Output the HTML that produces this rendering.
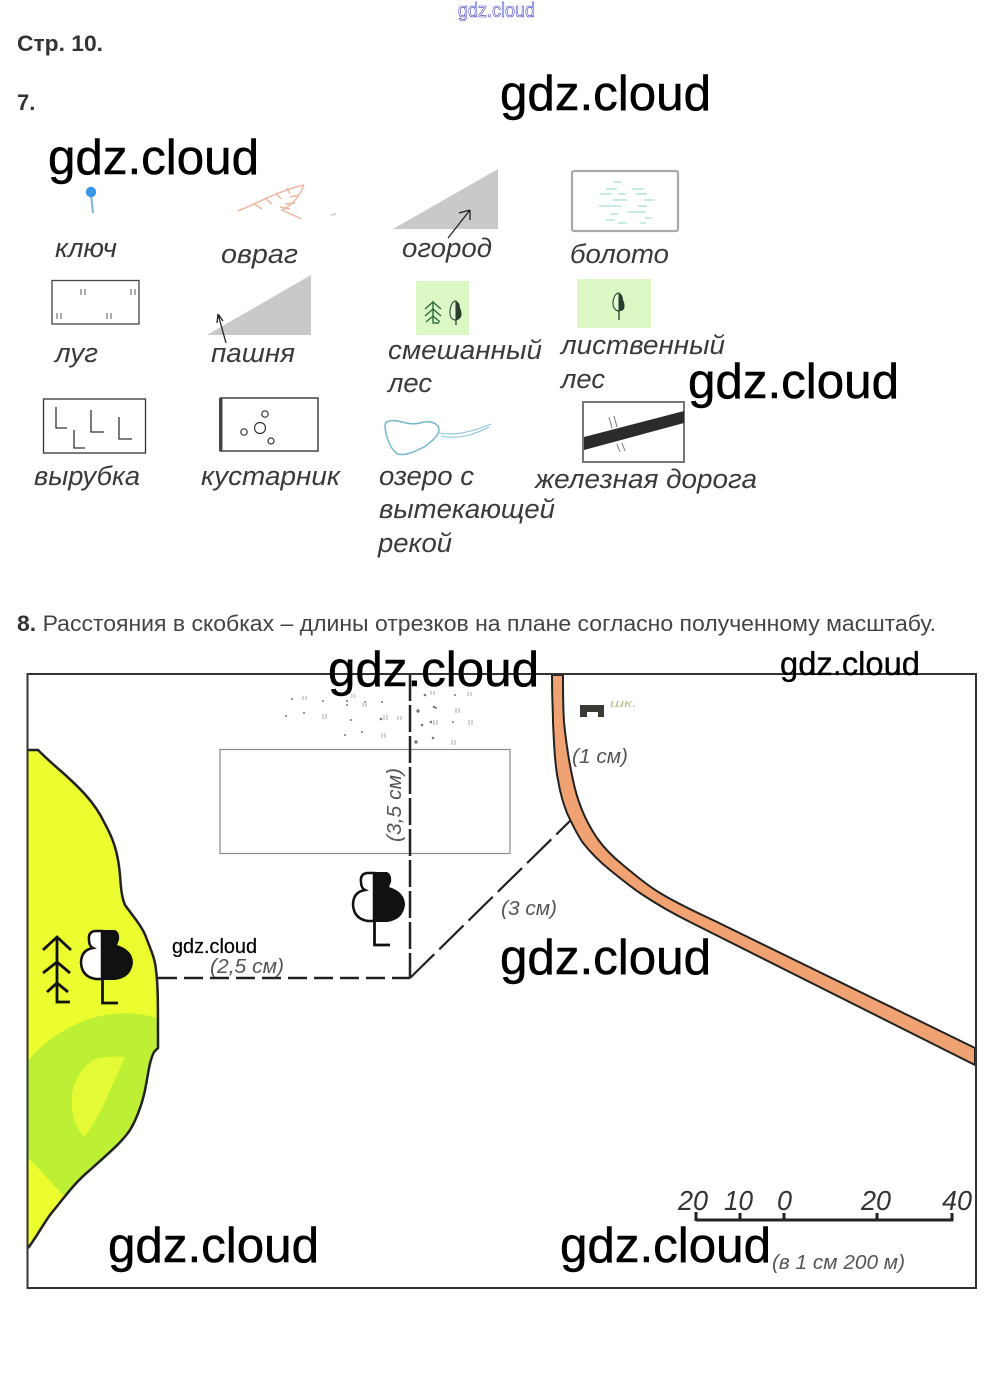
<!DOCTYPE html>
<html lang="ru"><head><meta charset="utf-8"><title>Стр. 10</title>
<style>
html,body{margin:0;padding:0;background:#fff;width:993px;height:1382px;overflow:hidden}
svg{display:block}
text{font-family:"Liberation Sans",sans-serif}
.l{font-style:italic;font-size:27px;fill:#3a3a3a}
.b{font-weight:bold;font-size:22px;fill:#333}
.m{font-style:italic;font-size:20px;fill:#555}
.s{font-style:italic;font-size:28px;fill:#333}
.w{font-size:49.500px;fill:#000;stroke:#000;stroke-width:.5px}
</style></head><body>
<svg width="993" height="1382" viewBox="0 0 993 1382" xmlns="http://www.w3.org/2000/svg">
<rect width="993" height="1382" fill="#fff"/>

<!-- header -->
<text x="458" y="17" font-size="20" fill="#fff" stroke="#3a3ac8" stroke-width=".6" textLength="77" lengthAdjust="spacingAndGlyphs">gdz.cloud</text>
<text x="17" y="51" class="b" textLength="86" lengthAdjust="spacingAndGlyphs">Стр. 10.</text>
<text x="17" y="110" class="b">7.</text>

<!-- legend icons -->
<g>
<path d="M91 194L93 213" stroke="#7fb4d8" stroke-width="2" fill="none"/>
<circle cx="91" cy="192" r="5.200" fill="#3a96e8"/>
<g stroke="#efb7a0" stroke-width="1.500" fill="none">
<path d="M238 211C258 203 280 190 304 185"/>
<path d="M304 185C300 195 293 205 282 210C290 214 296 216 301 219"/>
<path d="M254 204l8 5M265 198l7 6M276 193l5 6M287 188l3 6M299 195l-9 2M295 203l-10 1M290 209l-10-2"/>
<path d="M331 215l5-1" stroke="#ccc"/>
</g>
<rect x="52" y="280.500" width="87" height="43.500" fill="#fff" stroke="#444" stroke-width="1.300"/>
<path d="M81 289v6M85 289v6M131 289v6M135 289v6M57 313v6M61 313v6M107 313v6M111 313v6" stroke="#555"/>
<path d="M207 335L311 275V335Z" fill="#c9c9c9"/>
<path d="M226 343L218 314M218 314l-1 9M218 314l5 7" stroke="#222" stroke-width="1.300" fill="none"/>
<rect x="43.500" y="399" width="102" height="54" fill="#fff" stroke="#333" stroke-width="1.300"/>
<path d="M56 407V428H67M74 430V448H85M91 410V432H104M119 417V439H132" stroke="#333" stroke-width="1.300" fill="none"/>
<rect x="220.500" y="398" width="97.500" height="53" fill="#fff" stroke="#444" stroke-width="1.500"/>
<rect x="219" y="398" width="3.500" height="53" fill="#444"/>
<g fill="#fff" stroke="#333" stroke-width="1.200"><circle cx="265" cy="414" r="3.200"/><circle cx="260" cy="428" r="5.500"/><circle cx="244" cy="432" r="3.200"/><circle cx="271" cy="441" r="3"/></g>

<path d="M393 229L498 169V229Z" fill="#c9c9c9"/>
<path d="M448 238L470 210M470 210l-11 3M470 210l0 10" stroke="#222" stroke-width="1.300" fill="none"/>
<rect x="572" y="171" width="106" height="60" rx="2" fill="#fff" stroke="#a8a8a8" stroke-width="2.200"/>
<path d="M613 182h9M606 189h11M632 189h12M600 194h12M618 194h8M636 194h11M613 200h14M644 200h10M599 206h22M638 206h9M610 214h8M628 212h18M606 220h9M645 218h7M618 223h9M640 223h6" stroke="#8fd8d0" stroke-width=".9"/>

<rect x="416" y="281" width="53" height="54" fill="#dcf8c4"/>
<path d="M433 301V323H439M425 309l8-7 8 7M425 316l8-7 8 7M426 322l7-6 7 6" stroke="#2f6a3f" stroke-width="1.400" fill="none"/>
<path d="M456 301c-4 0-6 6-6 12 0 4 2 7 6 7z" fill="#e6f8d8" stroke="#2f5a3a" stroke-width="1.200"/>
<path d="M456 301c3 1 4 4 4 7 2 3 2 9 0 10-1 2-3 2-4 2z" fill="#26402c"/>
<path d="M456 320v5" stroke="#26402c" stroke-width="1.300"/>
<rect x="577" y="279" width="74" height="49" fill="#dcf8c4"/>
<path d="M619 293c-4 0-6 6-6 10 0 4 2 8 6 8z" fill="#e6f8d8" stroke="#2f5a3a" stroke-width="1.200"/>
<path d="M619 293c3 1 4 4 4 7 2 3 2 9 0 10-1 1-3 1-4 1z" fill="#26402c"/>
<path d="M619 311v9" stroke="#26402c" stroke-width="1.300"/>

<path d="M385 427C384 421 390 420 398 421C406 423 412 425 420 423C430 420 438 423 439 429C439 436 431 442 424 447C414 452 405 456 398 454C391 451 386 437 385 427Z" fill="none" stroke="#74b6d0" stroke-width="1.500"/>
<path d="M439 433C455 436 472 432 491 424M441 436C458 440 476 434 489 427" fill="none" stroke="#8cc6d8" stroke-width="1.100"/>

<rect x="583" y="402" width="101" height="60" fill="#fff" stroke="#777" stroke-width="2"/>
<path d="M584 437L684 411V423L584 450Z" fill="#2c2a2a"/>
<path d="M609 417l3 11M614 416l3 11M617 444l3 8M622 443l3 8" stroke="#777" stroke-width="1"/>
</g>

<!-- legend labels -->
<text x="55" y="257" class="l" textLength="62" lengthAdjust="spacingAndGlyphs">ключ</text>
<text x="221" y="263" class="l" textLength="77" lengthAdjust="spacingAndGlyphs">овраг</text>
<text x="402" y="257" class="l" textLength="90" lengthAdjust="spacingAndGlyphs">огород</text>
<text x="570" y="263" class="l" textLength="99" lengthAdjust="spacingAndGlyphs">болото</text>
<text x="55" y="362" class="l" textLength="43" lengthAdjust="spacingAndGlyphs">луг</text>
<text x="211" y="362" class="l" textLength="84" lengthAdjust="spacingAndGlyphs">пашня</text>
<text x="388" y="359" class="l" textLength="154" lengthAdjust="spacingAndGlyphs">смешанный</text>
<text x="388" y="392" class="l" textLength="44" lengthAdjust="spacingAndGlyphs">лес</text>
<text x="561" y="354" class="l" textLength="164" lengthAdjust="spacingAndGlyphs">лиственный</text>
<text x="561" y="388" class="l" textLength="44" lengthAdjust="spacingAndGlyphs">лес</text>
<text x="34" y="485" class="l" textLength="106" lengthAdjust="spacingAndGlyphs">вырубка</text>
<text x="201" y="485" class="l" textLength="139" lengthAdjust="spacingAndGlyphs">кустарник</text>
<text x="379" y="485" class="l" textLength="95" lengthAdjust="spacingAndGlyphs">озеро с</text>
<text x="379" y="518" class="l" textLength="176" lengthAdjust="spacingAndGlyphs">вытекающей</text>
<text x="378" y="552" class="l" textLength="74" lengthAdjust="spacingAndGlyphs">рекой</text>
<text x="535" y="488" class="l" textLength="222" lengthAdjust="spacingAndGlyphs">железная дорога</text>

<!-- section 8 -->
<text x="17" y="631" font-size="22" fill="#444" textLength="919" lengthAdjust="spacingAndGlyphs"><tspan font-weight="bold" fill="#333">8.</tspan> Расстояния в скобках – длины отрезков на плане согласно полученному масштабу.</text>

<!-- forest -->
<clipPath id="f"><path d="M28 750L38 750C48 760 55 766 62 772C80 788 95 803 104 822C113 838 118 852 120 875C121 890 122 898 125 905C132 915 142 926 146 937C150 948 155 958 156 970C158 985 158 1000 158 1048L154 1052C149 1062 148 1076 145 1090C142 1105 136 1120 130 1130C122 1142 110 1152 90 1170C78 1180 70 1190 62 1200L50 1215C42 1226 36 1238 28 1248Z"/></clipPath>
<path d="M28 750L38 750C48 760 55 766 62 772C80 788 95 803 104 822C113 838 118 852 120 875C121 890 122 898 125 905C132 915 142 926 146 937C150 948 155 958 156 970C158 985 158 1000 158 1048L154 1052C149 1062 148 1076 145 1090C142 1105 136 1120 130 1130C122 1142 110 1152 90 1170C78 1180 70 1190 62 1200L50 1215C42 1226 36 1238 28 1248Z" fill="#ebfc2f"/>
<g clip-path="url(#f)">
<path d="M160 1019C130 1009 95 1012 65 1030C48 1040 36 1050 26 1063V1155L63 1195L170 1150Z" fill="#bdf034"/>
<path d="M125 1057C112 1056 100 1057 93 1060C82 1068 74 1080 72 1095C71 1112 74 1128 85 1137C93 1124 101 1112 108 1095Z" fill="#e4fa34"/>
</g>
<path d="M28 750L38 750C48 760 55 766 62 772C80 788 95 803 104 822C113 838 118 852 120 875C121 890 122 898 125 905C132 915 142 926 146 937C150 948 155 958 156 970C158 985 158 1000 158 1048L154 1052C149 1062 148 1076 145 1090C142 1105 136 1120 130 1130C122 1142 110 1152 90 1170C78 1180 70 1190 62 1200L50 1215C42 1226 36 1238 28 1248" fill="none" stroke="#222" stroke-width="2.500"/>

<!-- trees -->
<path d="M57 938V1002H70M43 950L57 937L71 950M43 973L57 962L70 973M47 992L57 983L68 992" fill="none" stroke="#111" stroke-width="2.800"/>
<g>
<path d="M102 931H95Q88 932 89 940Q89 946 93 948Q81 950 81 963Q82 977 96 979H102Z" fill="#fff" stroke="#111" stroke-width="2.500"/>
<path d="M102 930H115Q120 932 119 940L117 945Q133 950 133 963Q131 978 115 980H102Z" fill="#111"/>
<path d="M102.500 980V1003H118" fill="none" stroke="#111" stroke-width="2.800"/>
</g>
<g transform="translate(272 -58)">
<path d="M102 931H95Q88 932 89 940Q89 946 93 948Q81 950 81 963Q82 977 96 979H102Z" fill="#fff" stroke="#111" stroke-width="2.500"/>
<path d="M102 930H115Q120 932 119 940L117 945Q133 950 133 963Q131 978 115 980H102Z" fill="#111"/>
<path d="M102.500 980V1003H118" fill="none" stroke="#111" stroke-width="2.800"/>
</g>

<!-- field -->
<rect x="220" y="749.500" width="290" height="104" fill="none" stroke="#8a8a8a" stroke-width="1.200"/>

<!-- stipple -->
<g fill="#777">
<circle cx="292" cy="699" r="1"/><circle cx="323" cy="701" r="1"/><circle cx="347" cy="701" r="1"/><circle cx="365" cy="702" r="1"/><circle cx="347" cy="705" r="1"/><circle cx="286" cy="716" r="1"/><circle cx="304" cy="713" r="1"/><circle cx="351" cy="720" r="1"/><circle cx="381" cy="719" r="1.300"/><circle cx="345" cy="735" r="1"/><circle cx="362" cy="732" r="1"/><circle cx="382" cy="702" r="1"/>
<circle cx="418" cy="711" r="1.700"/><circle cx="434" cy="707" r="1.300"/><circle cx="425" cy="695" r="1.300"/><circle cx="455" cy="695" r="1"/><circle cx="422" cy="725" r="1.300"/><circle cx="431" cy="722" r="1.300"/><circle cx="453" cy="722" r="1"/><circle cx="416" cy="742" r="1.700"/><circle cx="433" cy="738" r="1.300"/><circle cx="436" cy="708" r="1"/>
</g>
<path d="M303 696v4M306 696v4M323 714v5M326 714v5M363 703v4M366 703v4M384 715v5M387 715v5M398 716v4M401 716v4M382 733v5M385 733v5M352 694v4M355 694v4M431 691v4M434 691v4M468 692v4M471 692v4M456 708v5M459 708v5M434 720v5M437 720v5M469 720v5M472 720v5M452 740v5M455 740v5" stroke="#aaa" stroke-width="1"/>

<!-- dashed lines -->
<path d="M410 674V978" stroke="#222" stroke-width="2.500" stroke-dasharray="27 4" fill="none"/>
<path d="M158 978H410" stroke="#222" stroke-width="2.500" stroke-dasharray="19 7" fill="none"/>
<path d="M410 978L571 820" stroke="#222" stroke-width="2.200" stroke-dasharray="34 7" fill="none"/>

<!-- road -->
<path d="M552 675C552 700 553 712 553 722C554 745 555 765 558 780C560 792 563 803 567 813C572 824 577 834 583 843C591 853 600 862 610 870C621 879 632 888 643 895C658 905 674 914 690 922L975 1065V1048L717 922C698 913 678 904 660 893C647 885 635 875 623 865C613 857 604 848 597 838C591 829 586 820 582 810C578 800 575 790 573 780C569 762 566 742 564 722C563 708 563 690 563 675Z" fill="#f0a272" stroke="#222" stroke-width="2" stroke-linejoin="round"/>

<!-- frame -->
<rect x="27.500" y="674" width="948.500" height="614" fill="none" stroke="#333" stroke-width="2"/>

<!-- school -->
<path d="M580 705H604V717H598V712H587V717H580Z" fill="#3a3a34"/>
<text x="610" y="707" font-size="11" font-style="italic" fill="#bdb98a" textLength="27" lengthAdjust="spacingAndGlyphs">шк.</text>

<!-- distance labels -->
<text x="572" y="763" class="m" textLength="56" lengthAdjust="spacingAndGlyphs">(1 см)</text>
<text x="501" y="915" class="m" textLength="56" lengthAdjust="spacingAndGlyphs">(3 см)</text>
<text x="210" y="973" class="m" textLength="74" lengthAdjust="spacingAndGlyphs">(2,5 см)</text>
<text transform="translate(401 842) rotate(-90)" class="m" textLength="74" lengthAdjust="spacingAndGlyphs">(3,5 см)</text>

<!-- scale -->
<path d="M696 1220H953" stroke="#222" stroke-width="3" fill="none"/>
<path d="M696 1212V1221M740 1213V1221M784 1213V1221M877 1213V1221M952 1213V1221" stroke="#222" stroke-width="3" fill="none"/>
<text x="678" y="1210" class="s" textLength="30" lengthAdjust="spacingAndGlyphs">20</text>
<text x="724" y="1210" class="s" textLength="29" lengthAdjust="spacingAndGlyphs">10</text>
<text x="777" y="1210" class="s" textLength="15" lengthAdjust="spacingAndGlyphs">0</text>
<text x="861" y="1210" class="s" textLength="30" lengthAdjust="spacingAndGlyphs">20</text>
<text x="942" y="1210" class="s" textLength="30" lengthAdjust="spacingAndGlyphs">40</text>
<text x="772" y="1269" class="m" textLength="133" lengthAdjust="spacingAndGlyphs">(в 1 см 200 м)</text>

<!-- watermarks -->
<text x="500" y="110" class="w" textLength="211" lengthAdjust="spacingAndGlyphs">gdz.cloud</text>
<text x="48" y="174" class="w" textLength="211" lengthAdjust="spacingAndGlyphs">gdz.cloud</text>
<text x="688" y="398" class="w" textLength="211" lengthAdjust="spacingAndGlyphs">gdz.cloud</text>
<text x="328" y="686" class="w" textLength="211" lengthAdjust="spacingAndGlyphs">gdz.cloud</text>
<text x="780" y="675" font-size="33" fill="#000" stroke="#000" stroke-width=".3" textLength="140" lengthAdjust="spacingAndGlyphs">gdz.cloud</text>
<text x="172" y="953" font-size="20" fill="#000" stroke="#000" stroke-width=".2" textLength="85" lengthAdjust="spacingAndGlyphs">gdz.cloud</text>
<text x="500" y="974" class="w" textLength="211" lengthAdjust="spacingAndGlyphs">gdz.cloud</text>
<text x="108" y="1262" class="w" textLength="211" lengthAdjust="spacingAndGlyphs">gdz.cloud</text>
<text x="560" y="1262" class="w" textLength="211" lengthAdjust="spacingAndGlyphs">gdz.cloud</text>
</svg>
</body></html>
